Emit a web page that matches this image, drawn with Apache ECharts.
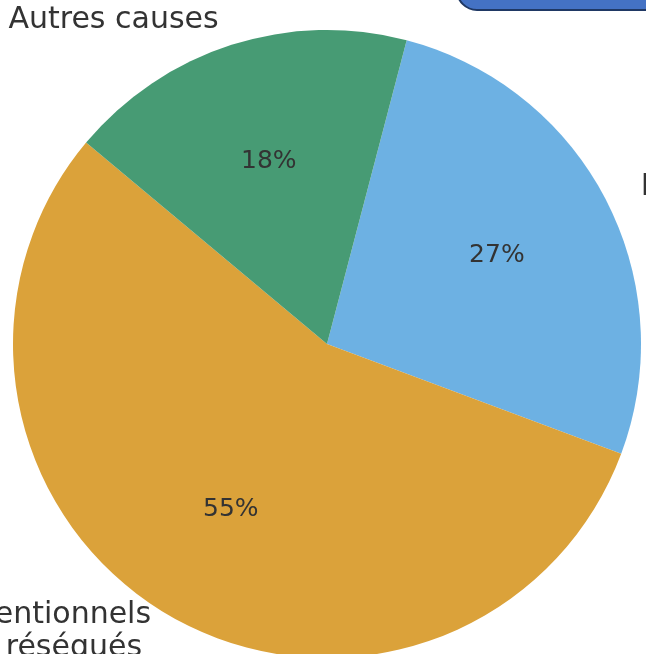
<!DOCTYPE html>
<html>
<head>
<meta charset="utf-8">
<script src="https://cdn.jsdelivr.net/npm/echarts@6/dist/echarts.min.js"></script>
<style>
  html, body { margin: 0; padding: 0; background: #fff; }
  #chart { width: 646px; height: 654px; }
</style>
</head>
<body>
<div id="chart"></div>
<script>
// données du camembert
var categories = ["Lésions festonnées", "Adénomes conventionnels\nnon réséqués", "Autres causes"];
var values = [26.6, 55.4, 18.0];
var colors = ["#6DB1E3", "#DBA23A", "#479B74"];

var myChart = echarts.init(document.getElementById("chart"));

var R = 314;
var C = [327, 344];

var option = {
  animation: false,
  graphic: [
    {
      // cadre bleu coupé en haut à droite
      type: "rect",
      shape: { x: 457, y: -32, width: 230, height: 42, r: 20 },
      style: { fill: "#4472C4", stroke: "#1F3864", lineWidth: 2 },
      z: 10
    }
  ],
  series: [
    {
      type: "pie",
      center: C,
      radius: R,
      startAngle: 75.3,
      clockwise: true,
      silent: true,
      avoidLabelOverlap: false,
      itemStyle: { borderWidth: 0 },
      label: {
        show: true,
        position: "outside",
        fontFamily: "DejaVu Sans",
        fontSize: 30,
        color: "#333",
        lineHeight: 33,
        distanceToLabelLine: 5
      },
      labelLine: { show: false, length: 26, length2: 0 },
      data: categories.map(function (c, i) {
        var d = { name: c, value: values[i], itemStyle: { color: colors[i] } };
        if (i === 0) d.label = { padding: [0, 0, 2, 7] };
        if (i === 1) {
          var lines = c.split("\n");
          d.label = {
            padding: [0, 0, 12, 0],
            formatter: "{a|" + lines[0] + "}\n{b|" + lines[1] + "}",
            rich: {
              a: { fontFamily: "DejaVu Sans", fontSize: 30, color: "#333", lineHeight: 33 },
              b: { fontFamily: "DejaVu Sans", fontSize: 30, color: "#333", lineHeight: 33, padding: [0, 9, 0, 0] }
            }
          };
        }
        if (i === 2) d.label = { padding: [0, 0, 6, 0] };
        return d;
      })
    },
    {
      // pourcentages à 0.6 du rayon
      type: "pie",
      center: C,
      radius: [0, R * 1.2],
      startAngle: 75.3,
      clockwise: true,
      silent: true,
      itemStyle: { color: "rgba(0,0,0,0)" },
      label: {
        show: true,
        position: "inside",
        fontFamily: "DejaVu Sans",
        fontSize: 25,
        color: "#333",
        formatter: function (p) {
          return Math.round(p.percent) + "%";
        }
      },
      labelLine: { show: false },
      data: categories.map(function (c, i) {
        return { name: c, value: values[i] };
      })
    }
  ]
};

myChart.setOption(option);
myChart.resize();
</script>
</body>
</html>
